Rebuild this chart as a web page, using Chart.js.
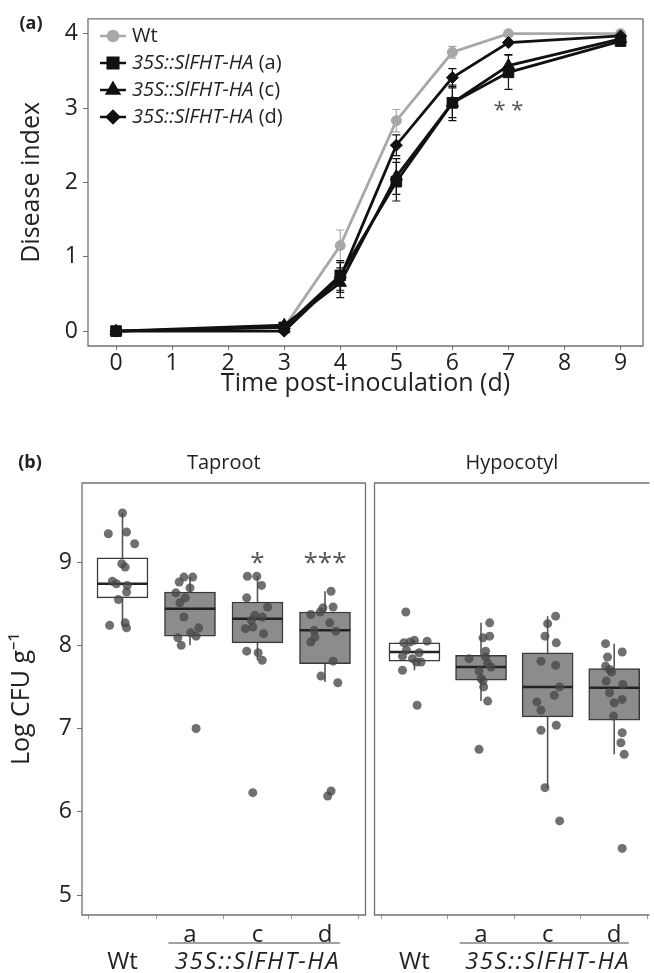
<!DOCTYPE html>
<html>
<head>
<meta charset="utf-8">
<script src="https://cdn.jsdelivr.net/npm/chart.js@4.4.0/dist/chart.umd.min.js"></script>
<style>
  html, body { margin: 0; padding: 0; background: #fff; }
  #wrap { position: relative; width: 654px; height: 973px; overflow: hidden; }
  canvas { position: absolute; }
</style>
</head>
<body>
<div id="wrap">
  <canvas id="lineChart" width="654" height="405" style="left:0;top:0"></canvas>
  <canvas id="tapChart" width="370" height="533" style="left:0;top:440px"></canvas>
  <canvas id="hypChart" width="284" height="533" style="left:370px;top:440px"></canvas>
</div>
<script>
// ---- (a) disease index over time ----
const days = [0, 3, 4, 5, 6, 7, 9];
const dayTicks = [0, 1, 2, 3, 4, 5, 6, 7, 8, 9];
const indexTicks = [0, 1, 2, 3, 4];

const wtIndex = [0, 0.05, 1.15, 2.83, 3.75, 4.0, 4.0];
const wtErr   = [0, 0.02, 0.21, 0.15, 0.08, 0, 0];
const aIndex  = [0, 0.05, 0.75, 2.01, 3.07, 3.48, 3.90];
const aErr    = [0, 0.02, 0.20, 0.26, 0.24, 0.23, 0.03];
const cIndex  = [0, 0.08, 0.65, 2.08, 3.07, 3.57, 3.93];
const cErr    = [0, 0.03, 0.20, 0.24, 0.20, 0.15, 0.03];
const dIndex  = [0, 0.00, 0.72, 2.50, 3.41, 3.88, 3.97];
const dErr    = [0, 0.02, 0.20, 0.14, 0.12, 0.03, 0.02];

// ---- (b) bacterial load, boxplots ----
const groups = ['Wt', 'a', 'c', 'd'];
const cfuTicks = [5, 6, 7, 8, 9];

const tapLo  = [8.22, 8.00, 7.82, 7.56];
const tapQ1  = [8.57, 8.11, 8.03, 7.78];
const tapMed = [8.74, 8.44, 8.32, 8.18];
const tapQ3  = [9.05, 8.64, 8.52, 8.40];
const tapHi  = [9.59, 8.82, 8.83, 8.65];

const hypLo  = [7.70, 7.33, 6.29, 6.69];
const hypQ1  = [7.81, 7.58, 7.14, 7.10];
const hypMed = [7.92, 7.74, 7.50, 7.49];
const hypQ3  = [8.03, 7.88, 7.91, 7.72];
const hypHi  = [8.06, 8.27, 8.35, 8.02];

// individual plants: [jitter, log CFU]
const tapWtPts = [[0, 9.59], [-0.21, 9.34], [0.06, 9.36], [0.18, 9.22], [-0.01, 8.98], [0.04, 8.94], [-0.15, 8.77],
  [-0.09, 8.74], [0.07, 8.72], [0.06, 8.64], [-0.06, 8.55], [-0.19, 8.24], [0.04, 8.27], [0.06, 8.21]];
const tapAPts = [[-0.09, 8.82], [0.04, 8.82], [-0.16, 8.76], [0, 8.69], [-0.21, 8.63], [-0.07, 8.57], [-0.15, 8.51],
  [-0.09, 8.34], [0.13, 8.21], [0.01, 8.15], [0.09, 8.11], [-0.18, 8.09], [-0.13, 8.00], [0.09, 7.00]];
const tapCPts = [[-0.15, 8.83], [-0.01, 8.83], [0.06, 8.72], [-0.16, 8.57], [0.15, 8.46], [-0.04, 8.36], [0.07, 8.34],
  [-0.09, 8.30], [-0.07, 8.22], [-0.18, 8.20], [0.09, 8.14], [-0.16, 7.93], [0.01, 7.91], [0.07, 7.82], [-0.07, 6.23]];
const tapDPts = [[0.09, 8.65], [0.12, 8.46], [-0.03, 8.45], [-0.21, 8.37], [-0.07, 8.40], [0.07, 8.27], [0.16, 8.17],
  [-0.16, 8.18], [-0.15, 8.10], [-0.21, 8.04], [0.12, 7.81], [-0.06, 7.63], [0.19, 7.55], [0.04, 6.19], [0.09, 6.25]];

const hypWtPts = [[-0.13, 8.40], [0.19, 8.05], [0, 8.06], [-0.07, 8.04], [-0.16, 8.03], [-0.12, 7.94], [0.07, 7.91],
  [-0.18, 7.87], [-0.03, 7.84], [0.10, 7.80], [0.03, 7.80], [-0.18, 7.70], [0.04, 7.28]];
const hypAPts = [[0.13, 8.27], [0.13, 8.11], [0.03, 8.09], [0.07, 7.93], [-0.18, 7.84], [0.07, 7.86], [0.10, 7.78],
  [0.15, 7.74], [-0.03, 7.69], [0, 7.60], [0.03, 7.57], [0.04, 7.50], [0.10, 7.33], [-0.03, 6.75]];
const hypCPts = [[0.12, 8.35], [0, 8.26], [-0.04, 8.11], [0.13, 8.03], [-0.10, 7.81], [0.12, 7.76], [0.18, 7.50],
  [0.10, 7.40], [-0.16, 7.32], [-0.10, 7.22], [-0.10, 6.98], [0.13, 7.04], [-0.04, 6.29], [0.18, 5.89]];
const hypDPts = [[-0.13, 8.02], [0.12, 7.92], [-0.10, 7.86], [-0.13, 7.75], [-0.04, 7.68], [-0.07, 7.71], [-0.12, 7.57],
  [0.13, 7.53], [-0.07, 7.43], [0.12, 7.35], [0, 7.31], [-0.01, 7.15], [0.12, 6.95], [0.10, 6.83], [0.15, 6.69], [0.12, 5.56]];

const FONT = "'Open Sans', 'Noto Sans', sans-serif";
const INK = '#222';
const FRAME = '#707070';

// draws error bars, frame, legend and free text
const extrasPlugin = {
  id: 'extras',
  beforeDatasetsDraw(chart) {
    const { ctx } = chart;
    const xs = chart.scales.x, ys = chart.scales.y;
    chart.data.datasets.forEach((ds) => {
      if (!ds.errors) return;
      ctx.save();
      ctx.strokeStyle = ds.borderColor;
      ctx.lineWidth = 1.2;
      ds.data.forEach((p, i) => {
        const e = ds.errors[i];
        if (!e) return;
        const px = xs.getPixelForValue(p.x);
        const top = ys.getPixelForValue(p.y + e);
        const bot = ys.getPixelForValue(p.y - e);
        ctx.beginPath();
        ctx.moveTo(px, top); ctx.lineTo(px, bot);
        ctx.moveTo(px - 4, top); ctx.lineTo(px + 4, top);
        ctx.moveTo(px - 4, bot); ctx.lineTo(px + 4, bot);
        ctx.stroke();
      });
      ctx.restore();
    });
  },
  afterDraw(chart, args, opts) {
    const { ctx, chartArea: a } = chart;
    ctx.save();
    // panel frame
    ctx.strokeStyle = FRAME;
    ctx.lineWidth = 1.3;
    ctx.beginPath();
    ctx.moveTo(a.right, a.top); ctx.lineTo(a.left, a.top);
    ctx.lineTo(a.left, a.bottom); ctx.lineTo(a.right, a.bottom);
    if (opts.closed) ctx.lineTo(a.right, a.top);
    ctx.stroke();

    ctx.textBaseline = 'middle';
    // facet strip
    if (opts.strip) {
      ctx.font = `20px ${FONT}`;
      ctx.fillStyle = INK;
      ctx.textAlign = 'center';
      ctx.fillText(opts.strip, (a.left + a.right) / 2, a.top - 20);
    }
    // panel tag
    if (opts.tag) {
      ctx.font = `bold 18px ${FONT}`;
      ctx.fillStyle = INK;
      ctx.textAlign = 'center';
      ctx.fillText(opts.tag.text, opts.tag.x, opts.tag.y);
    }
    // significance stars
    (opts.texts || []).forEach((t) => {
      ctx.font = `${t.size}px ${FONT}`;
      ctx.fillStyle = t.color || INK;
      ctx.textAlign = 'center';
      ctx.fillText(t.text, chart.scales.x.getPixelForValue(t.x), chart.scales.y.getPixelForValue(t.y));
    });
    // genotype bracket under the transgenic lines
    if (opts.bracket) {
      const b = opts.bracket;
      const x0 = chart.scales.x.getPixelForValue(b.from);
      const x1 = chart.scales.x.getPixelForValue(b.to);
      ctx.strokeStyle = '#444';
      ctx.lineWidth = 1.2;
      ctx.beginPath();
      ctx.moveTo(x0, a.bottom + 28); ctx.lineTo(x1, a.bottom + 28);
      ctx.stroke();
      ctx.font = `italic 24px ${FONT}`;
      ctx.letterSpacing = '1.5px';
      ctx.fillStyle = INK;
      ctx.textAlign = 'center';
      ctx.fillText(b.text, chart.scales.x.getPixelForValue(b.center), a.bottom + 47);
      ctx.letterSpacing = '0px';
    }
    // legend with italic genotype names
    if (opts.legend) {
      chart.data.datasets.forEach((ds, i) => {
        const y = 36 + i * 27;
        ctx.strokeStyle = ds.borderColor;
        ctx.fillStyle = ds.borderColor;
        ctx.lineWidth = 2.5;
        ctx.beginPath();
        ctx.moveTo(100, y); ctx.lineTo(126, y);
        ctx.stroke();
        Chart.helpers.drawPoint(ctx, { pointStyle: ds.pointStyle, radius: ds.pointRadius, rotation: 0, borderWidth: 1 }, 113, y);
        ctx.fillStyle = INK;
        ctx.textAlign = 'left';
        const m = ds.label.match(/^(35S::SlFHT-HA)(.*)$/);
        let x = 132;
        if (m) {
          ctx.font = `italic 20px ${FONT}`;
          ctx.fillText(m[1], x, y);
          x += ctx.measureText(m[1]).width;
          ctx.font = `20px ${FONT}`;
          ctx.fillText(m[2], x, y);
        } else {
          ctx.font = `20px ${FONT}`;
          ctx.fillText(ds.label, x, y);
        }
      });
    }
    ctx.restore();
  }
};

function series(label, values, errors, color, style, radius, order) {
  return {
    label,
    data: days.map((d, i) => ({ x: d, y: values[i] })),
    errors,
    borderColor: color,
    backgroundColor: color,
    borderWidth: 2.8,
    pointStyle: style,
    pointRadius: radius,
    pointBorderWidth: 1,
    tension: 0,
    order
  };
}

new Chart(document.getElementById('lineChart'), {
  type: 'line',
  data: {
    datasets: [
      series('Wt', wtIndex, wtErr, '#a8a8a8', 'circle', 5, 1),
      series('35S::SlFHT-HA (a)', aIndex, aErr, '#111', 'rect', 7.5, 0),
      series('35S::SlFHT-HA (c)', cIndex, cErr, '#111', 'triangle', 7, 0),
      series('35S::SlFHT-HA (d)', dIndex, dErr, '#111', 'rectRot', 6, 0)
    ]
  },
  options: {
    responsive: false,
    animation: false,
    events: [],
    layout: { padding: { top: 12, right: 11, left: 0, bottom: 0 } },
    plugins: {
      legend: { display: false },
      tooltip: { enabled: false },
      extras: {
        closed: true,
        legend: true,
        tag: { text: '(a)', x: 31, y: 24 },
        texts: [{ text: '* *', x: 7.0, y: 2.97, size: 22, color: '#555' }]
      }
    },
    scales: {
      x: {
        type: 'linear',
        min: -0.5,
        max: 9.4,
        afterBuildTicks: (s) => { s.ticks = dayTicks.map((v) => ({ value: v })); },
        afterFit: (s) => { s.height = 59; },
        border: { display: false },
        grid: { drawOnChartArea: false, tickLength: 4, tickColor: FRAME },
        ticks: { color: INK, font: { family: FONT, size: 23, lineHeight: 1 }, padding: 2, maxRotation: 0, autoSkip: false },
        title: { display: true, text: 'Time post-inoculation (d)', color: INK, font: { family: FONT, size: 25 }, padding: { top: 0, bottom: 6 } }
      },
      y: {
        min: -0.2,
        max: 4.2,
        afterBuildTicks: (s) => { s.ticks = indexTicks.map((v) => ({ value: v })); },
        afterFit: (s) => { s.width = 88; },
        border: { display: false },
        grid: { drawOnChartArea: false, tickLength: 5, tickColor: FRAME },
        ticks: { color: INK, font: { family: FONT, size: 23 }, padding: 5 },
        title: { display: true, text: 'Disease index', color: INK, font: { family: FONT, size: 25 }, padding: { top: 17, bottom: 0 } }
      }
    }
  },
  plugins: [extrasPlugin]
});

const BOX_W = 0.75;

function facet(canvasId, lo, q1, med, q3, hi, pts, cfg) {
  const whiskers = [];
  const medians = [];
  groups.forEach((g, i) => {
    const x = i + 1;
    whiskers.push({ x, y: lo[i] }, { x, y: q1[i] }, { x, y: null },
                  { x, y: q3[i] }, { x, y: hi[i] }, { x, y: null });
    medians.push({ x: x - BOX_W / 2, y: med[i] }, { x: x + BOX_W / 2, y: med[i] }, { x: x + BOX_W / 2, y: null });
  });
  const dots = [];
  pts.forEach((list, i) => list.forEach(([j, v]) => dots.push({ x: i + 1 + j, y: v })));

  return new Chart(document.getElementById(canvasId), {
    type: 'bar',
    data: {
      datasets: [
        { type: 'scatter', data: dots, pointRadius: 4.5, backgroundColor: 'rgba(72,72,72,0.78)', borderWidth: 0, order: 0 },
        { type: 'line', data: medians, borderColor: '#222', borderWidth: 2.5, pointRadius: 0, spanGaps: false, order: 1 },
        {
          type: 'bar',
          data: groups.map((g, i) => ({ x: i + 1, y: [q1[i], q3[i]] })),
          backgroundColor: groups.map((g) => (g === 'Wt' ? '#ffffff' : '#8c8c8c')),
          borderColor: '#3a3a3a',
          borderWidth: 1.5,
          borderSkipped: false,
          barThickness: 51,
          order: 2
        },
        { type: 'line', data: whiskers, borderColor: '#555', borderWidth: 1.6, pointRadius: 0, spanGaps: false, order: 3 }
      ]
    },
    options: {
      responsive: false,
      animation: false,
      events: [],
      layout: { padding: cfg.padding },
      plugins: {
        legend: { display: false },
        tooltip: { enabled: false },
        extras: cfg.extras
      },
      scales: {
        x: {
          type: 'linear',
          offset: false,
          min: 0.4,
          max: cfg.xMax,
          afterBuildTicks: (s) => { s.ticks = groups.map((g, i) => ({ value: i + 1 })); },
          afterFit: (s) => { s.height = 58; },
          border: { display: false },
          grid: { drawOnChartArea: false, tickLength: 4, tickColor: '#999' },
          ticks: {
            color: INK,
            font: { family: FONT, size: 24, lineHeight: 1.125 },
            padding: 2.5,
            maxRotation: 0,
            autoSkip: false,
            callback: (v) => {
              const g = groups[Math.round(v) - 1];
              return g === 'Wt' ? ['', g] : g;
            }
          }
        },
        y: {
          display: cfg.showY,
          min: 4.76,
          max: 9.95,
          afterBuildTicks: (s) => { s.ticks = cfuTicks.map((v) => ({ value: v })); },
          afterFit: (s) => { s.width = cfg.showY ? 82 : 0; },
          border: { display: false },
          grid: { drawOnChartArea: false, tickLength: 5, tickColor: FRAME },
          ticks: { color: INK, font: { family: FONT, size: 23 }, padding: 5 },
          title: { display: true, text: 'Log CFU g\u207B\u00B9', color: INK, font: { family: FONT, size: 25 }, padding: { top: 7, bottom: 0 } }
        }
      }
    },
    plugins: [extrasPlugin]
  });
}

const bracket = { text: '35S::SlFHT-HA', from: 1.68, to: 4.22, center: 3 };

facet('tapChart', tapLo, tapQ1, tapMed, tapQ3, tapHi, [tapWtPts, tapAPts, tapCPts, tapDPts], {
  padding: { top: 43, right: 2, left: 0, bottom: 0 },
  xMax: 4.6,
  showY: true,
  extras: {
    closed: true,
    strip: 'Taproot',
    tag: { text: '(b)', x: 30, y: 23 },
    bracket,
    texts: [
      { text: '*', x: 3, y: 8.98, size: 26, color: '#555' },
      { text: '***', x: 4, y: 8.98, size: 26, color: '#555' }
    ]
  }
});

facet('hypChart', hypLo, hypQ1, hypMed, hypQ3, hypHi, [hypWtPts, hypAPts, hypCPts, hypDPts], {
  padding: { top: 43, right: 0, left: 3, bottom: 0 },
  xMax: 4.53,
  showY: false,
  extras: {
    closed: false,
    strip: 'Hypocotyl',
    bracket
  }
});
</script>
</body>
</html>
